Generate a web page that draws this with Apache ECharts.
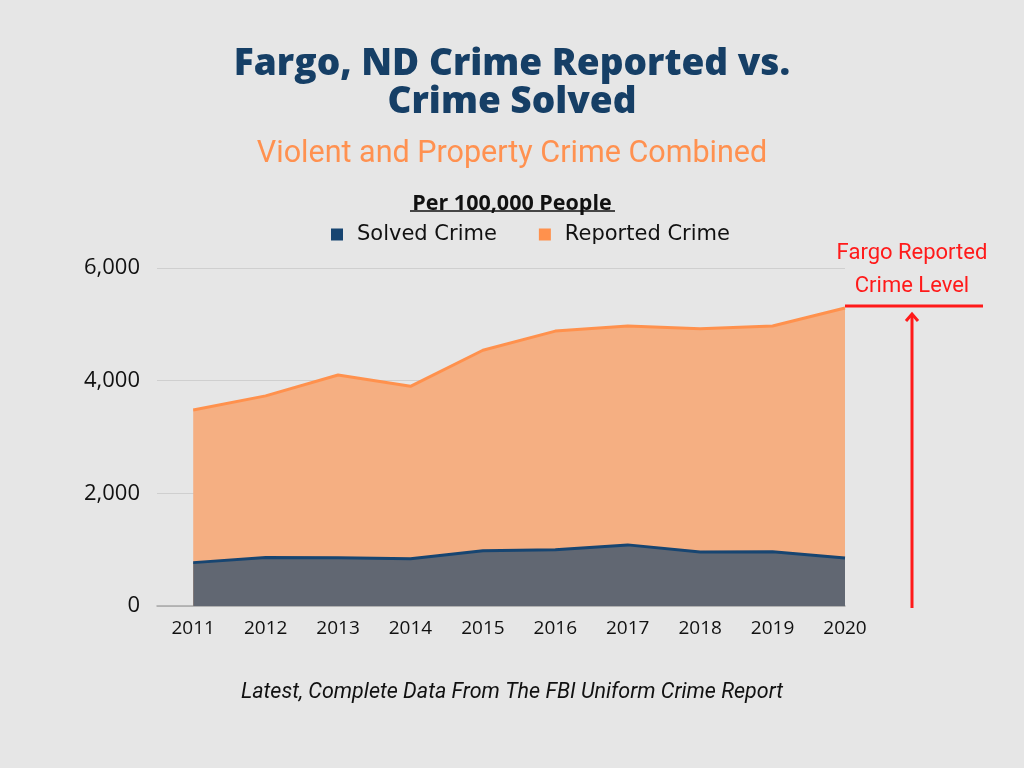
<!DOCTYPE html>
<html>
<head>
<meta charset="utf-8">
<script src="https://cdn.jsdelivr.net/npm/echarts@6/dist/echarts.min.js"></script>
<style>
html, body { margin: 0; padding: 0; background: #e6e6e6; }
#chart { width: 1024px; height: 768px; }
</style>
</head>
<body>
<div id="chart"></div>
<script>
// 数据
var years = [2011, 2012, 2013, 2014, 2015, 2016, 2017, 2018, 2019, 2020];
var reported = [3480, 3730, 4100, 3900, 4540, 4880, 4970, 4920, 4970, 5290];
var solved = [770, 860, 855, 840, 980, 1000, 1085, 960, 965, 850];
var yTicks = [0, 2000, 4000, 6000];

function pairs(vals) {
    var out = [];
    for (let i = 0; i < years.length; i++) {
        out.push([years[i], vals[i]]);
    }
    return out;
}

var chart = echarts.init(document.getElementById('chart'));
var option = {
    backgroundColor: '#e6e6e6',
    title: [
        {
            text: 'Fargo, ND Crime Reported vs.\nCrime Solved',
            left: 'center',
            top: 40,
            textStyle: { fontFamily: 'Open Sans', fontWeight: 800, fontSize: 37, lineHeight: 38, color: '#163f66' }
        },
        {
            text: 'Violent and Property Crime Combined',
            left: 'center',
            top: 134,
            textStyle: { fontFamily: 'Roboto', fontWeight: 'normal', fontSize: 30.5, color: '#ff9150' }
        },
        {
            text: 'Per 100,000 People',
            left: 'center',
            top: 188,
            textStyle: { fontFamily: 'Open Sans', fontWeight: 'bold', fontSize: 21.5, color: '#111' }
        },
        {
            text: 'Latest, Complete Data From The FBI Uniform Crime Report',
            left: 'center',
            top: 677,
            textStyle: { fontFamily: 'Roboto', fontStyle: 'italic', fontWeight: 'normal', fontSize: 21.5, color: '#111' }
        }
    ],
    legend: {
        top: 219,
        left: 326,
        itemWidth: 12,
        itemHeight: 12,
        itemGap: 42,
        icon: 'rect',
        textStyle: { fontFamily: 'DejaVu Sans', fontSize: 21, color: '#111', padding: [0, 0, 0, 9] },
        data: ['Solved Crime', 'Reported Crime']
    },
    grid: { left: 157, right: 179, top: 268, bottom: 162 },
    xAxis: {
        type: 'value',
        min: 2010.5,
        max: 2020,
        interval: 0.5,
        axisLine: { show: true, lineStyle: { color: '#a8a8a8', width: 1.5 } },
        axisTick: { show: false },
        splitLine: { show: false },
        axisLabel: {
            margin: 13,
            fontFamily: 'Open Sans',
            fontSize: 19,
            color: '#111',
            showMaxLabel: true,
            formatter: function (v) {
                return years.indexOf(v) >= 0 ? String(v) : '';
            }
        }
    },
    yAxis: {
        type: 'value',
        min: yTicks[0],
        max: yTicks[yTicks.length - 1],
        interval: 2000,
        axisLine: { show: false },
        axisTick: { show: false },
        splitLine: { lineStyle: { color: '#cfcfcf', width: 1 } },
        axisLabel: {
            margin: 17,
            fontFamily: 'Open Sans',
            fontSize: 22,
            color: '#111',
            formatter: function (v) { return v.toLocaleString('en-US'); }
        }
    },
    series: [
        {
            name: 'Reported Crime',
            type: 'line',
            data: pairs(reported),
            symbol: 'none',
            itemStyle: { color: '#ff914d' },
            lineStyle: { color: '#ff914d', width: 3 },
            areaStyle: { color: '#f5af82', opacity: 1 },
            z: 2
        },
        {
            name: 'Solved Crime',
            type: 'line',
            data: pairs(solved),
            symbol: 'none',
            itemStyle: { color: '#174571' },
            lineStyle: { color: '#174571', width: 3 },
            areaStyle: { color: '#616772', opacity: 1 },
            z: 3
        }
    ]
};
chart.setOption(option);

// 注释：报告犯罪水平
var lvl = chart.convertToPixel({ xAxisIndex: 0, yAxisIndex: 0 }, [2020, reported[reported.length - 1]]);
var base = chart.convertToPixel({ xAxisIndex: 0, yAxisIndex: 0 }, [2020, 0]);
var ax = 912;
var ly = lvl[1] - 2;
chart.setOption({
    graphic: [
        {
            type: 'line',
            shape: { x1: 410, y1: 211, x2: 615, y2: 211 },
            style: { stroke: '#111', lineWidth: 1.5 }
        },
        {
            type: 'text',
            x: ax,
            y: 237,
            style: {
                text: 'Fargo Reported\nCrime Level',
                fontFamily: 'Roboto',
                fontSize: 22,
                lineHeight: 33,
                fill: '#ff1a1a',
                textAlign: 'center',
                align: 'center'
            }
        },
        {
            type: 'line',
            shape: { x1: lvl[0], y1: ly, x2: 983, y2: ly },
            style: { stroke: '#ff1a1a', lineWidth: 3 }
        },
        {
            type: 'line',
            shape: { x1: ax, y1: base[1] + 2, x2: ax, y2: ly + 8 },
            style: { stroke: '#ff1a1a', lineWidth: 3 }
        },
        {
            type: 'polyline',
            shape: { points: [[ax - 6, ly + 15], [ax, ly + 8], [ax + 6, ly + 15]] },
            style: { stroke: '#ff1a1a', lineWidth: 3, fill: 'none' }
        }
    ]
});
</script>
</body>
</html>
